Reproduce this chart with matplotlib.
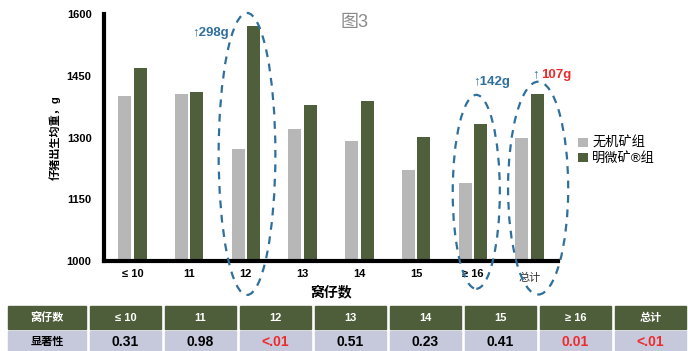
import numpy as np
import matplotlib
matplotlib.use("Agg")
import matplotlib.pyplot as plt
from matplotlib.patches import Ellipse, Rectangle

plt.rcParams['font.family'] = ['Liberation Sans', 'Noto Sans CJK SC', 'DejaVu Sans']

# data
categories = ['≤ 10', '11', '12', '13', '14', '15', '≥ 16', '总计']
inorganic = [1401, 1406, 1272, 1321, 1291, 1221, 1190, 1299]
chelated = [1469, 1410, 1570, 1379, 1389, 1301, 1332, 1406]
series_names = ['无机矿组', '明微矿®组']
gains = {2: '298g', 6: '142g', 7: '107g'}
table_header = ['窝仔数', '≤ 10', '11', '12', '13', '14', '15', '≥ 16', '总计']
p_values = ['显著性', '0.31', '0.98', '<.01', '0.51', '0.23', '0.41', '0.01', '<.01']
significant = [False, False, False, True, False, False, False, True, True]

GREY = '#b7b7b7'
GREEN = '#4f5f3b'
BLUE = '#2f6f9b'
RED = '#ee2a2a'

W, H = 688, 351
fig = plt.figure(figsize=(W / 100, H / 100), dpi=100)
ax = fig.add_axes([104 / W, 1 - 261 / H, (558 - 104) / W, (261 - 14) / H])

x = np.arange(len(categories))
bw = 0.23
ax.bar(x - 0.135, inorganic, bw, color=GREY, label=series_names[0], zorder=2)
ax.bar(x + 0.135, chelated, bw, color=GREEN, label=series_names[1], zorder=2)

ax.set_xlim(-0.5, len(categories) - 0.5)
ax.set_ylim(1000, 1600)
ax.set_yticks([1000, 1150, 1300, 1450, 1600])
ax.set_xticks(x[:-1])
ax.set_xticklabels(categories[:-1])
ax.tick_params(length=0, labelsize=8)
ax.tick_params(axis='y', pad=9)
ax.tick_params(axis='x', pad=6)
for lab in ax.get_xticklabels() + ax.get_yticklabels():
    lab.set_fontweight('bold')
ax.text(x[-1], 960, categories[-1], ha='center', va='center', fontsize=8, color='#333333')
for s in ['top', 'right']:
    ax.spines[s].set_visible(False)
for s in ['left', 'bottom']:
    ax.spines[s].set_linewidth(3)
ax.set_xlabel('窝仔数', fontsize=10, fontweight='bold', labelpad=4)
ax.set_ylabel('仔猪出生均重，g', fontsize=8, fontweight='bold', labelpad=4)

# dashed highlight ellipses
for cx, cy, ew, eh in [(2.02, 1260, 1.0, 685), (6.06, 1168, 0.83, 471), (7.15, 1177, 1.06, 517)]:
    ax.add_patch(Ellipse((cx, cy), ew, eh, fill=False, ls=(0, (3.5, 3)), lw=1.6,
                         ec=BLUE, clip_on=False, zorder=3))

# gain labels
ax.text(1.05, 1555, '↑' + gains[2], color=BLUE, fontsize=9.5, fontweight='bold', va='center')
ax.text(6.0, 1436, '↑' + gains[6], color=BLUE, fontsize=9.5, fontweight='bold', va='center')
ax.text(7.05, 1453, '↑', color=BLUE, fontsize=9.5, fontweight='bold', va='center')
ax.text(7.2, 1453, gains[7], color=RED, fontsize=9.5, fontweight='bold', va='center')

ax.legend(loc='center left', bbox_to_anchor=(573 / W, 1 - 151 / H), bbox_transform=fig.transFigure,
          frameon=False, fontsize=9.5, handlelength=0.75, handleheight=0.75, handletextpad=0.3,
          labelspacing=0.15, borderaxespad=0)

fig.text(355 / W, 1 - 22 / H, '图3', fontsize=13, color='#8a8a8a', ha='center', va='center')

# significance table at the bottom
tab = fig.add_axes([0, 0, 1, 1], facecolor='none')
tab.set_xlim(0, W)
tab.set_ylim(H, 0)
tab.axis('off')
col_x = [8] + [90 + 75 * i for i in range(8)]
col_w = [78] + [71] * 8
for i in range(9):
    tab.add_patch(Rectangle((col_x[i], 306), col_w[i], 23, color='#4f5e3a'))
    tab.add_patch(Rectangle((col_x[i], 331), col_w[i], 22, color='#c6c8dc'))
    cx = col_x[i] + col_w[i] / 2
    tab.text(cx, 318, table_header[i], color='white', fontsize=8, fontweight='bold',
             ha='center', va='center')
    tab.text(cx, 342, p_values[i], color=RED if significant[i] else 'black',
             fontsize=8 if i == 0 else 10, fontweight='bold', ha='center', va='center')

fig.savefig('out.png', dpi=100)
